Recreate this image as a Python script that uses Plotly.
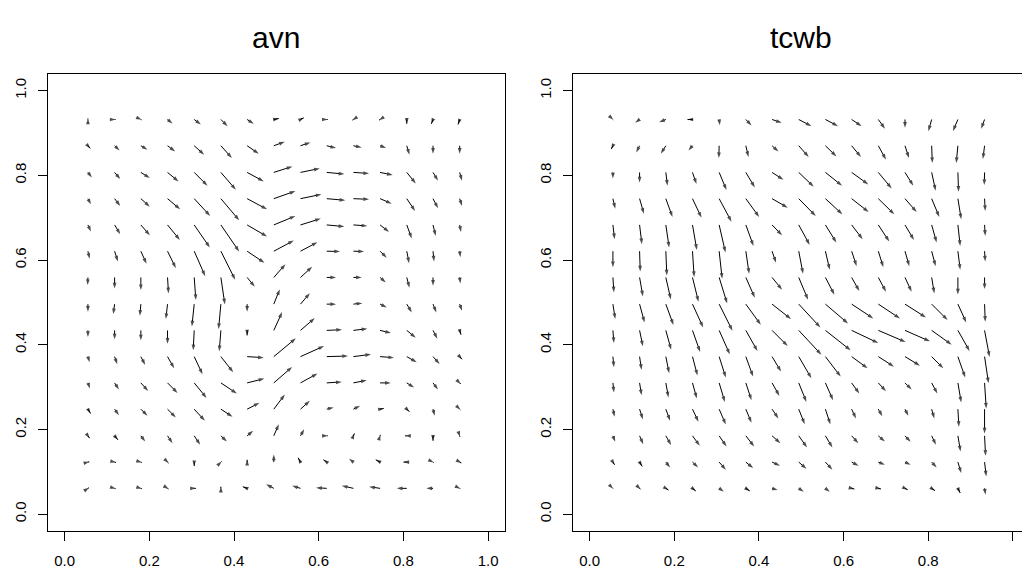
import plotly.graph_objects as go

# ---------------- data ----------------
X_GRID = [0.055, 0.118, 0.180, 0.243, 0.306, 0.369, 0.431, 0.494, 0.557, 0.619, 0.682, 0.745, 0.808, 0.870, 0.933]
Y_GRID = [0.061, 0.123, 0.185, 0.248, 0.310, 0.372, 0.434, 0.496, 0.559, 0.621, 0.683, 0.745, 0.807, 0.870, 0.932]

# vector components, rows from top (Y_GRID[-1]) to bottom (Y_GRID[0]), columns left to right
AVN_U = [
    [0, 3, 2, 15, 20, 20, 20, 15, 10, 3, -3, -3, 0, -5, -5],
    [7, 15, 20, 23, 30, 33, 35, 33, 30, 28, 25, 18, 8, 0, 0],
    [12, 17, 27, 33, 40, 45, 50, 56, 58, 53, 47, 38, 27, 15, 7],
    [9, 17, 27, 38, 48, 55, 60, 65, 63, 56, 47, 35, 25, 15, 7],
    [9, 17, 27, 37, 47, 55, 60, 65, 61, 53, 42, 27, 15, 8, 4],
    [5, 10, 17, 25, 33, 43, 52, 60, 51, 40, 32, 20, 7, 3, 2],
    [-1, 0, 0, 3, 5, 12, 23, 35, 35, 28, 25, 17, 8, 0, 2],
    [0, -4, -3, -5, -7, -7, 0, 18, 28, 28, 27, 20, 15, 10, 7],
    [0, 0, 0, 0, -3, -5, 0, 25, 43, 46, 42, 33, 27, 13, 4],
    [5, 8, 13, 20, 25, 37, 50, 66, 71, 64, 53, 42, 30, 20, 7],
    [6, 13, 22, 30, 37, 48, 52, 55, 51, 45, 40, 32, 22, 15, 3],
    [8, 13, 20, 25, 32, 35, 37, 33, 28, 21, 20, 11, 8, 5, 2],
    [5, 10, 13, 15, 18, 18, 18, 15, 11, 3, 3, 1, -5, 0, 1],
    [4, 4, 3, 3, 0, 2, 0, 0, -7, -10, -13, -13, -10, 2, 5],
    [3, 3, 3, 3, 5, 0, -13, -23, -25, -32, -35, -33, -30, -20, 2],
]
AVN_V = [
    [3, 0, -1, -12, -15, -20, -13, 3, 5, 0, -2, -2, -13, -13, -15],
    [-8, -14, -12, -17, -27, -37, -24, 12, 10, -7, -5, -7, -27, -24, -24],
    [-15, -20, -17, -27, -40, -52, -27, 18, 12, -5, -3, -8, -33, -25, -25],
    [-17, -22, -24, -32, -52, -65, -32, 23, 13, -5, -2, -15, -37, -29, -22],
    [-20, -28, -31, -45, -68, -80, -35, 27, 19, -5, -3, -21, -41, -33, -21],
    [-23, -31, -38, -51, -75, -86, -35, 32, 27, -1, -1, -20, -36, -31, -18],
    [-23, -33, -38, -48, -68, -81, -28, 40, 32, 0, 0, -15, -31, -25, -18],
    [-23, -30, -35, -45, -67, -75, -23, 45, 33, 0, 3, -10, -25, -25, -20],
    [-20, -27, -30, -40, -60, -63, -15, 55, 37, 2, 5, -8, -22, -25, -13],
    [-17, -23, -25, -35, -53, -47, -3, 55, 32, 2, 7, -3, -17, -22, -8],
    [-17, -20, -24, -30, -45, -32, 13, 48, 28, 3, 8, 0, -14, -20, -3],
    [-13, -18, -20, -25, -35, -23, 19, 44, 25, 5, 10, 2, -8, -20, -2],
    [-7, -12, -17, -22, -27, -17, 15, 35, 20, 0, 7, 3, 0, -15, -3],
    [1, -1, -1, -3, -12, 2, 7, 23, 13, 7, 10, 7, 0, -1, -3],
    [2, -1, -1, -2, 0, 5, 5, 12, 8, 2, 8, 5, 0, 0, -1],
]
TCWB_U = [
    [1, -13, -20, -15, 2, 17, 29, 38, 38, 30, 20, 0, -10, -15, -10],
    [-5, -10, -15, -12, -1, 8, 19, 30, 33, 28, 23, 12, 2, -5, -5],
    [0, 0, 5, 12, 22, 27, 34, 45, 50, 50, 40, 25, 12, 2, -1],
    [7, 13, 20, 27, 37, 40, 47, 51, 51, 51, 48, 35, 23, 10, 2],
    [5, 7, 10, 13, 19, 23, 30, 33, 33, 33, 33, 27, 15, 7, 2],
    [0, 2, 3, 5, 9, 10, 12, 13, 13, 15, 15, 13, 12, 7, 2],
    [3, 10, 15, 18, 24, 27, 30, 28, 27, 23, 23, 20, 8, 0, 0],
    [7, 15, 23, 32, 40, 45, 57, 65, 68, 65, 65, 63, 48, 25, 2],
    [3, 10, 16, 23, 32, 35, 47, 68, 76, 80, 82, 75, 60, 35, 15],
    [3, 6, 10, 15, 20, 22, 27, 38, 46, 48, 47, 45, 35, 22, 12],
    [3, 6, 8, 13, 17, 17, 22, 23, 23, 23, 23, 20, 17, 10, 5],
    [5, 10, 13, 18, 20, 17, 19, 18, 15, 13, 12, 10, 8, 3, 0],
    [7, 11, 16, 22, 22, 25, 25, 25, 21, 20, 20, 17, 13, 8, 3],
    [5, 8, 13, 17, 20, 22, 24, 23, 21, 21, 20, 17, 15, 10, 5],
    [1, 3, 8, 10, 14, 12, 17, 15, 13, 8, 8, 8, 10, 7, 3],
]
TCWB_V = [
    [-1, -10, -8, 0, -17, -18, -10, -20, -20, -20, -28, -25, -35, -35, -28],
    [-10, -20, -24, -14, -37, -34, -17, -34, -32, -34, -42, -37, -52, -52, -40],
    [-18, -30, -40, -35, -53, -45, -22, -43, -40, -36, -48, -40, -55, -58, -38],
    [-30, -45, -55, -57, -69, -55, -27, -52, -47, -40, -47, -40, -55, -62, -37],
    [-43, -58, -68, -75, -83, -63, -31, -60, -53, -43, -50, -45, -53, -63, -33],
    [-48, -61, -73, -78, -83, -68, -35, -68, -56, -45, -48, -45, -45, -56, -31],
    [-45, -57, -66, -73, -78, -61, -37, -67, -52, -41, -43, -43, -48, -51, -35],
    [-45, -55, -63, -70, -80, -62, -45, -70, -58, -43, -43, -40, -48, -55, -53],
    [-38, -48, -58, -65, -72, -62, -47, -73, -60, -38, -35, -33, -43, -62, -80],
    [-32, -40, -50, -57, -63, -60, -45, -65, -60, -35, -30, -27, -35, -63, -80],
    [-29, -37, -44, -47, -57, -52, -39, -57, -52, -32, -25, -20, -32, -59, -77],
    [-23, -31, -35, -38, -46, -41, -28, -45, -46, -28, -21, -20, -28, -53, -73],
    [-18, -25, -28, -30, -32, -32, -22, -35, -35, -22, -17, -18, -27, -47, -60],
    [-8, -13, -16, -16, -23, -18, -11, -20, -23, -11, -8, -8, -16, -33, -43],
    [-1, -3, -5, -8, -10, -8, -5, -10, -10, -2, -2, -4, -7, -14, -19],
]
TITLES = ["avn", "tcwb"]
TICK_VALS = [0.0, 0.2, 0.4, 0.6, 0.8, 1.0]
TICK_TEXT = ["0.0", "0.2", "0.4", "0.6", "0.8", "1.0"]

# ---------------- style ----------------
ARROW_SCALE = 1.0 / 1272.0
HEAD_SIZE = 6
W, H = 1022, 569
FONT = "Liberation Sans, Arial, Helvetica, sans-serif"

fig = go.Figure()
panels = [(AVN_U, AVN_V, "x", "y"), (TCWB_U, TCWB_V, "x2", "y2")]
n = len(X_GRID)
for U, V, xr, yr in panels:
    xs, ys, sizes = [], [], []
    for r in range(n):
        y0 = Y_GRID[n - 1 - r]
        for c in range(n):
            x0 = X_GRID[c]
            u, v = U[r][c], V[r][c]
            if u == 0 and v == 0:
                v = -1
            xs += [x0, x0 + u * ARROW_SCALE, None]
            ys += [y0, y0 + v * ARROW_SCALE, None]
            sizes += [0, HEAD_SIZE, 0]
    fig.add_trace(go.Scatter(
        x=xs, y=ys, mode="lines+markers",
        line=dict(color="black", width=1),
        marker=dict(symbol="arrow", size=sizes, color="black", angleref="previous",
                    line=dict(width=0)),
        hoverinfo="skip", showlegend=False, xaxis=xr, yaxis=yr, connectgaps=False))

xd1 = [47.7 / W, 505.0 / W]
xd2 = [572.7 / W, 1.0]
yd = [(H - 533.0) / H, (H - 74.0) / H]
box_w = 505.0 - 47.7

annotations = []
for i, left in enumerate([47.7, 572.7]):
    annotations.append(dict(x=(left + box_w / 2) / W, y=(H - 38.0) / H,
                            xref="paper", yref="paper", text=TITLES[i],
                            showarrow=False, font=dict(family=FONT, size=30, color="black"),
                            xanchor="center", yanchor="middle"))

axis_common = dict(showgrid=False, zeroline=False, showline=True, linecolor="black", linewidth=1,
                   ticks="outside", ticklen=9, tickwidth=1, tickcolor="black",
                   tickvals=TICK_VALS, ticktext=TICK_TEXT,
                   tickfont=dict(family=FONT, size=15, color="black"))

fig.update_layout(
    width=W, height=H, margin=dict(l=0, r=0, t=0, b=0),
    paper_bgcolor="white", plot_bgcolor="white",
    showlegend=False,
    xaxis=dict(domain=xd1, range=[-0.04, 1.04], anchor="y", mirror=True, ticklabelstandoff=7, **axis_common),
    yaxis=dict(domain=yd, range=[-0.04, 1.04], anchor="x", mirror=True, tickangle=-90, ticklabelstandoff=6, **axis_common),
    xaxis2=dict(domain=xd2, range=[-0.04, -0.04 + (W - 572.7) / 423.3], anchor="y2", mirror=True, ticklabelstandoff=7, **axis_common),
    yaxis2=dict(domain=yd, range=[-0.04, 1.04], anchor="x2", mirror=False, tickangle=-90, ticklabelstandoff=6, **axis_common),
    annotations=annotations,
)

fig.write_html("out.html")
